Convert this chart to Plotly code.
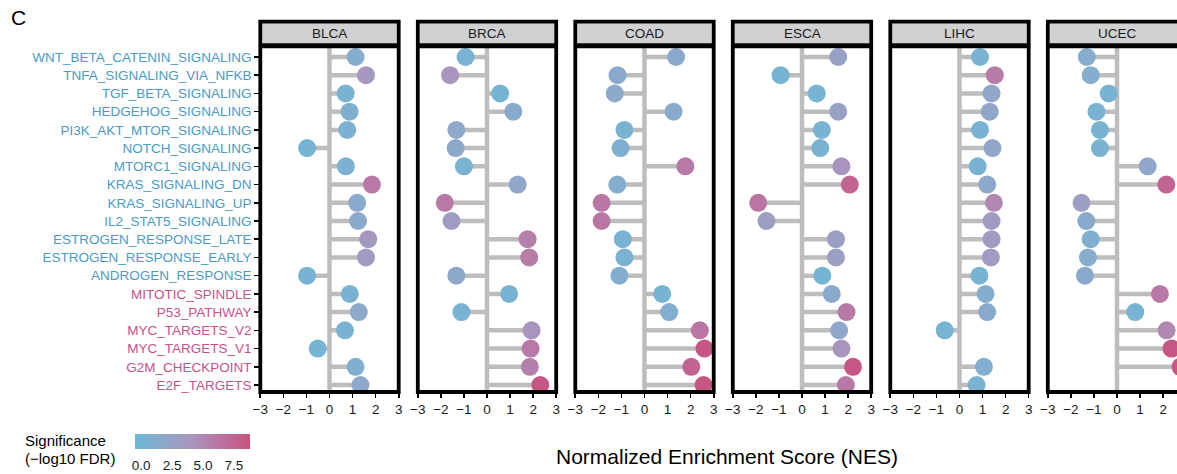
import plotly.graph_objects as go

W, H = 1177, 474

pathways = [
    "WNT_BETA_CATENIN_SIGNALING", "TNFA_SIGNALING_VIA_NFKB", "TGF_BETA_SIGNALING",
    "HEDGEHOG_SIGNALING", "PI3K_AKT_MTOR_SIGNALING", "NOTCH_SIGNALING",
    "MTORC1_SIGNALING", "KRAS_SIGNALING_DN", "KRAS_SIGNALING_UP",
    "IL2_STAT5_SIGNALING", "ESTROGEN_RESPONSE_LATE", "ESTROGEN_RESPONSE_EARLY",
    "ANDROGEN_RESPONSE", "MITOTIC_SPINDLE", "P53_PATHWAY", "MYC_TARGETS_V2",
    "MYC_TARGETS_V1", "G2M_CHECKPOINT", "E2F_TARGETS",
]
pathway_group = ["signal"] * 13 + ["cycle"] * 6
cancers = ["BLCA", "BRCA", "COAD", "ESCA", "LIHC", "UCEC"]

nes_blca = [1.13, 1.58, 0.70, 0.87, 0.77, -0.97, 0.71, 1.84, 1.20, 1.24, 1.68, 1.58, -0.97, 0.88, 1.27, 0.67, -0.51, 1.13, 1.34]
nes_brca = [-0.93, -1.60, 0.57, 1.14, -1.33, -1.36, -1.00, 1.33, -1.83, -1.54, 1.76, 1.83, -1.33, 0.96, -1.11, 1.93, 1.89, 1.86, 2.31]
nes_coad = [1.37, -1.17, -1.29, 1.26, -0.87, -1.04, 1.77, -1.18, -1.86, -1.86, -0.94, -0.87, -1.09, 0.77, 1.07, 2.40, 2.60, 2.03, 2.56]
nes_esca = [1.57, -0.93, 0.64, 1.57, 0.86, 0.79, 1.71, 2.07, -1.90, -1.54, 1.47, 1.47, 0.88, 1.29, 1.93, 1.61, 1.71, 2.21, 1.90]
nes_lihc = [0.89, 1.53, 1.39, 1.31, 0.89, 1.43, 0.79, 1.20, 1.49, 1.39, 1.39, 1.36, 0.86, 1.13, 1.20, -0.64, None, 1.06, 0.74]
nes_ucec = [-1.31, -1.14, -0.36, -0.89, -0.74, -0.74, 1.33, 2.14, -1.54, -1.33, -1.14, -1.26, -1.39, 1.86, 0.79, 2.15, 2.36, 2.75, None]

sig_blca = [1.2, 3.8, 0.5, 0.8, 0.6, 0.3, 0.6, 6.0, 1.5, 1.6, 3.8, 3.3, 0.3, 0.5, 1.6, 0.4, 0.2, 1.0, 1.8]
sig_brca = [0.4, 4.0, 0.2, 1.5, 1.8, 1.8, 0.5, 2.0, 6.0, 3.2, 5.6, 5.8, 1.8, 0.3, 0.4, 4.0, 6.0, 5.5, 8.5]
sig_coad = [1.5, 1.5, 1.6, 1.5, 0.5, 0.8, 6.0, 1.2, 6.2, 6.2, 0.4, 0.5, 1.1, 0.3, 1.0, 6.3, 8.5, 7.5, 8.5]
sig_esca = [2.6, 0.3, 0.3, 2.6, 0.5, 0.5, 4.0, 7.5, 6.2, 3.0, 3.0, 3.0, 0.3, 1.5, 6.0, 2.0, 4.0, 8.5, 6.0]
sig_lihc = [0.4, 5.8, 2.0, 2.0, 0.4, 2.0, 0.5, 1.8, 5.0, 3.3, 3.3, 3.3, 0.3, 1.2, 1.5, 0.3, None, 1.0, 0.5]
sig_ucec = [1.3, 1.3, 0.3, 0.5, 0.5, 0.5, 2.0, 7.5, 3.0, 1.5, 1.0, 1.2, 1.5, 6.0, 0.3, 5.0, 8.5, 8.5, None]

nes_all = [nes_blca, nes_brca, nes_coad, nes_esca, nes_lihc, nes_ucec]
sig_all = [sig_blca, sig_brca, sig_coad, sig_esca, sig_lihc, sig_ucec]

cbar_ticks = [0, 2.5, 5.0, 7.5]
cbar_ticktext = ["0.0", "2.5", "5.0", "7.5"]
x_ticks = [-3, -2, -1, 0, 1, 2, 3]

# ---- styling / geometry ----
FONT = "Liberation Sans, Arial, Helvetica, sans-serif"
BLUE_TXT = "#4A9BC7"
PINK_TXT = "#C9528A"
GREY = "#BDBDBD"
colorscale = [[0.0, "#6BB9D7"], [0.25, "#8EA8CB"], [0.5, "#A994BD"], [0.75, "#BC72A0"], [1.0, "#C8527F"]]
CMIN, CMAX = -0.5, 8.8

left0 = 260.3
step = 157.5
pw = 138.4
unit = pw / 6.0
ytop, ybot = 46.1, 392.0
row_top, row_bot = 57.0, 385.0
rstep = (row_bot - row_top) / 18.0
yr_top = -(row_top - ytop) / rstep
yr_bot = 18 + (ybot - row_bot) / rstep

CB_L, CB_R, CB_T, CB_B = 135.0, 250.0, 434.0, 449.0


def px(x):
    return x / W


def py(y):
    return 1 - y / H


fig = go.Figure()
shapes = []
annotations = []
layout_axes = {}

ticktext_y = [
    f'<span style="color:{BLUE_TXT if g == "signal" else PINK_TXT}">{p}</span>'
    for p, g in zip(pathways, pathway_group)
]

for k, c in enumerate(cancers):
    L = left0 + k * step
    R = min(L + pw, W)
    xr_hi = -3 + (R - L) / unit
    sfx = "" if k == 0 else str(k + 1)
    xa, ya = "x" + sfx, "y" + sfx
    layout_axes["xaxis" + sfx] = dict(
        domain=[px(L), px(R)], range=[-3, xr_hi], anchor=ya,
        tickmode="array", tickvals=x_ticks, ticks="outside", ticklen=5,
        tickwidth=1.6, tickcolor="black", showgrid=False, zeroline=False,
        showline=False, tickfont=dict(size=13.5, color="#1a1a1a", family=FONT),
        fixedrange=True,
    )
    yax = dict(
        domain=[py(ybot), py(ytop)], range=[yr_bot, yr_top], anchor=xa,
        showgrid=False, zeroline=False, showline=False, fixedrange=True,
        tickmode="array", tickvals=list(range(len(pathways))),
    )
    if k == 0:
        yax.update(ticktext=ticktext_y, ticks="outside", ticklen=5, tickwidth=1.6,
                   tickcolor="black", tickfont=dict(size=13.5, family=FONT))
    else:
        yax.update(showticklabels=False, ticks="")
    layout_axes["yaxis" + sfx] = yax

    vals = nes_all[k]
    sigs = sig_all[k]
    idx = [i for i, v in enumerate(vals) if v is not None]

    # zero line
    fig.add_trace(go.Scatter(x=[0, 0], y=[yr_bot + 1, yr_top - 1], mode="lines",
                             line=dict(color=GREY, width=4.5), xaxis=xa, yaxis=ya,
                             hoverinfo="skip", showlegend=False))
    # segments
    sx, sy = [], []
    for i in idx:
        sx += [0, vals[i], None]
        sy += [i, i, None]
    fig.add_trace(go.Scatter(x=sx, y=sy, mode="lines", line=dict(color=GREY, width=4.5),
                             xaxis=xa, yaxis=ya, hoverinfo="skip", showlegend=False))
    # points
    fig.add_trace(go.Scatter(
        x=[vals[i] for i in idx], y=idx, mode="markers",
        marker=dict(size=18, color=[sigs[i] for i in idx], coloraxis="coloraxis",
                    line=dict(width=0)),
        xaxis=xa, yaxis=ya, showlegend=False,
        text=[pathways[i] for i in idx],
    ))

    # panel border + strip
    shapes.append(dict(type="rect", xref="paper", yref="paper",
                       x0=px(L + 2), x1=px(L + pw - 2), y0=py(23.3), y1=py(43.3),
                       fillcolor="#D1D1D3", line=dict(width=0), layer="above"))
    shapes.append(dict(type="rect", xref="paper", yref="paper",
                       x0=px(L), x1=px(L + pw), y0=py(43.3), y1=py(48.3),
                       fillcolor="black", line=dict(width=0), layer="above"))
    shapes.append(dict(type="rect", xref="paper", yref="paper",
                       x0=px(L), x1=px(L + pw), y0=py(21.7), y1=py(392.0),
                       line=dict(color="black", width=3.8), layer="above"))
    annotations.append(dict(text=c, x=px(L + pw / 2), y=py(33.3), xref="paper", yref="paper",
                            showarrow=False, xanchor="center", yanchor="middle",
                            font=dict(size=13.5, color="#1a1a1a", family=FONT)))

# white tick marks inside the colour bar
cb_unit = (CB_R - CB_L) / (CMAX - CMIN)
for t in cbar_ticks:
    xt = CB_L + (t - CMIN) * cb_unit
    for (a, b) in [(CB_T, CB_T + 3), (CB_B - 3, CB_B)]:
        shapes.append(dict(type="line", xref="paper", yref="paper",
                           x0=px(xt), x1=px(xt), y0=py(a), y1=py(b),
                           line=dict(color="white", width=1), layer="above"))

annotations += [
    dict(text="C", x=px(9), y=py(18), xref="paper", yref="paper", showarrow=False,
         xanchor="left", yanchor="middle", font=dict(size=21, color="black", family=FONT)),
    dict(text="Normalized Enrichment Score (NES)", x=px(727), y=py(456), xref="paper",
         yref="paper", showarrow=False, xanchor="center", yanchor="middle",
         font=dict(size=21, color="black", family=FONT)),
    dict(text="Significance", x=px(23), y=py(440), xref="paper", yref="paper",
         showarrow=False, xanchor="left", yanchor="middle",
         font=dict(size=15, color="black", family=FONT)),
    dict(text="(\u2212log10 FDR)", x=px(23), y=py(458), xref="paper", yref="paper",
         showarrow=False, xanchor="left", yanchor="middle",
         font=dict(size=15, color="black", family=FONT)),
]

fig.update_layout(
    width=W, height=H,
    margin=dict(l=0, r=0, t=0, b=0, autoexpand=False),
    paper_bgcolor="white", plot_bgcolor="white",
    font=dict(family=FONT, color="black"),
    shapes=shapes, annotations=annotations,
    coloraxis=dict(
        colorscale=colorscale, cmin=CMIN, cmax=CMAX,
        colorbar=dict(
            orientation="h", x=px(CB_L), xanchor="left", y=py(CB_T), yanchor="top",
            len=CB_R - CB_L, lenmode="pixels", thickness=CB_B - CB_T, thicknessmode="pixels",
            xpad=0, ypad=0, outlinewidth=0,
            tickmode="array", tickvals=cbar_ticks, ticktext=cbar_ticktext,
            ticks="outside", tickcolor="white", ticklen=5, tickwidth=1,
            tickfont=dict(size=13.5, color="#1a1a1a", family=FONT),
        ),
    ),
    showlegend=False,
    **layout_axes,
)

fig.write_html(
    "out.html",
    config={"displayModeBar": False, "staticPlot": True},
    post_script="document.body.style.margin='0px';document.body.style.overflow='hidden';",
)
